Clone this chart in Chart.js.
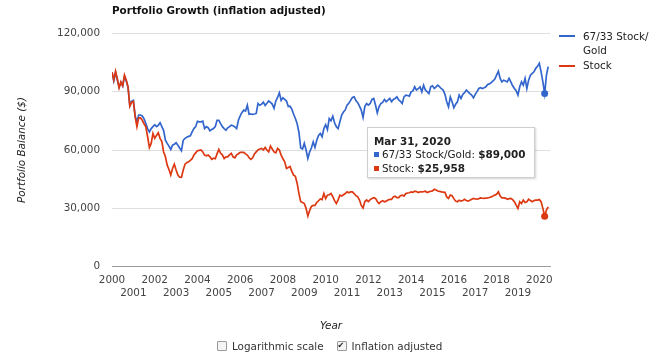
<!DOCTYPE html>
<html>
<head>
<meta charset="utf-8">
<script src="https://cdn.jsdelivr.net/npm/chart.js@4/dist/chart.umd.min.js"></script>
<style>
  html, body { margin: 0; padding: 0; background: #fff; }
  body { font-family: "DejaVu Sans", sans-serif; font-size: 10.4px; color: #222; }
  #wrap { position: relative; width: 660px; height: 360px; overflow: hidden; }
  #c { position: absolute; left: 0; top: 0; }
  .abs { position: absolute; white-space: nowrap; }
  #title { left: 112px; top: 3px; font-weight: bold; line-height: 14px; color: #111; }
  .lg-line { position: absolute; width: 16px; height: 2px; }
  .lg-text { position: absolute; line-height: 13.7px; color: #222; }
  #tip { position: absolute; left: 367px; top: 127px; width: 168px; height: 51px; background: #fff;
         border: 1px solid #cfcfcf; box-shadow: 1px 1px 2px rgba(0,0,0,0.18); box-sizing: border-box; }
  #tip .row { position: absolute; left: 6px; line-height: 14px; white-space: nowrap; color: #222; }
  #tip .sq { display: inline-block; width: 5px; height: 5px; margin-right: 3px; vertical-align: 1px; }
  #checks { left: 217px; top: 339px; line-height: 14px; color: #333; }
  .cb { display: inline-block; width: 8px; height: 8px; border: 1px solid #9a9a9a; border-radius: 1px;
        background: #f4f4f4; vertical-align: -1px; margin-right: 5px; position: relative; }
  .cb.on::after { content: "\2714"; position: absolute; left: 0px; top: -3px; font-size: 8px; color: #222; }
</style>
</head>
<body>
<div id="wrap">
  <canvas id="c" width="660" height="360"></canvas>
  <div id="title" class="abs"></div>
  <div id="legend"></div>
  <div id="tip"></div>
  <div id="checks" class="abs"></div>
</div>
<script>
// ---- data (monthly balances, first point = Dec 31, 1999) ----
const chartTitle = "Portfolio Growth (inflation adjusted)";
const seriesNames = ["67/33 Stock/Gold", "Stock"];
const seriesColors = ["#3366cc", "#dc3912"];
const startYear = 2000;
const xTickYears = [2000, 2001, 2002, 2003, 2004, 2005, 2006, 2007, 2008, 2009, 2010,
                    2011, 2012, 2013, 2014, 2015, 2016, 2017, 2018, 2019, 2020];
const yTicks = [0, 30000, 60000, 90000, 120000];
const tooltipIndex = 243;

const blend = [
  100000, 95500, 99800, 96000, 92300, 94800, 93000, 97800, 95500, 92300,
  83000, 85000, 85500, 77500, 74500, 78000, 78000, 77500, 76000, 73600,
  71000, 69300, 71000, 72000, 73000, 72000, 72700, 74000, 72000, 70000,
  65000, 63400, 62000, 60300, 62500, 63000, 63700, 62500, 61000, 59600,
  65000, 66000, 66500, 67000, 67300, 69300, 71000, 72000, 74800, 74500,
  74500, 74800, 71000, 72000, 71500, 69900, 70500, 71000, 72000, 75300,
  75300, 73600, 72000, 71000, 70200, 71400, 72000, 72800, 72500, 71900,
  71000, 75300, 77500, 79300, 80500, 80000, 83000, 78400, 78500, 78300,
  78500, 78800, 83900, 83000, 83600, 84600, 82900, 84000, 85200, 84500,
  83600, 81400, 85200, 87000, 89400, 85500, 86800, 86000, 85200, 82300,
  82500, 81000, 78400, 76200, 73500, 69000, 61000, 60500, 63400, 60000,
  55700, 59000, 61000, 64200, 61300, 65000, 67500, 68500, 66800, 71000,
  73000, 70500, 76200, 75000, 77400, 74000, 72000, 71000, 74500, 78000,
  79500, 80600, 83000, 84000, 85500, 87000, 87300, 85400, 84300, 82500,
  80500, 76700, 82300, 83900, 83100, 83900, 86000, 86500, 83100, 79100,
  82300, 83900, 84500, 86000, 84800, 85700, 86500, 84800, 86000, 86500,
  87300, 85700, 85000, 83900, 87300, 88200, 88000, 87700, 89900, 90400,
  92500, 90800, 91500, 92500, 89900, 93300, 90800, 90000, 89000, 92500,
  93000, 91600, 92500, 93300, 92500, 91500, 90800, 88600, 84800, 82200,
  87300, 84800, 81700, 83500, 84800, 88200, 86500, 88600, 89500, 90800,
  89900, 89000, 88200, 86800, 88600, 90000, 91600, 92000, 91600, 92000,
  92500, 93700, 94000, 94600, 95500, 96500, 98500, 100500, 96800, 95000,
  95900, 95500, 95000, 96800, 95000, 93000, 91600, 90500, 88200, 92500,
  95000, 93300, 96800, 91600, 95900, 98500, 99400, 100200, 102000, 103000,
  104600, 100200, 95000, 89000, 98500, 102900
];

const stock = [
  100000, 96000, 100500, 96500, 92000, 95000, 93000, 98500, 96000, 92500,
  82500, 84500, 85000, 77000, 72000, 76500, 76500, 75300, 73500, 71900,
  66800, 61300, 63400, 68500, 66000, 67500, 68900, 66000, 64300, 59000,
  56500, 52200, 50000, 47100, 50500, 52700, 49700, 47100, 46000, 45900,
  49700, 52700, 53500, 53900, 54700, 55500, 57400, 58500, 59600, 59800,
  60000, 59000, 57400, 57000, 57400, 56500, 55200, 55800, 55500, 58000,
  60300, 58300, 57500, 55600, 56500, 56500, 57500, 58300, 56500, 56000,
  57500, 58100, 58800, 58800, 58800, 58000, 57400, 56000, 55200, 56000,
  58000, 59000, 60000, 60500, 60800, 60000, 61300, 60000, 59000, 62000,
  60500, 59000, 58500, 60800, 60000, 57400, 55500, 53900, 50500, 51000,
  51500, 49000, 47100, 46500, 42800, 37600, 33400, 33000, 32500, 30000,
  26000, 28900, 31000, 31500, 31500, 33000, 33900, 34800, 34500, 37600,
  35000, 36800, 37000, 37600, 36000, 34000, 32500, 34300, 36800, 36300,
  37000, 37600, 38500, 38000, 38500, 38500, 37600, 36500, 35900, 34300,
  31500, 30200, 33500, 34300, 33500, 34500, 35100, 35500, 35100, 33500,
  32500, 33400, 33900, 33400, 33700, 34300, 34600, 34600, 35900, 36200,
  35500, 35500, 36500, 36800, 36300, 37600, 37900, 38000, 38500, 38200,
  38800, 38600, 38100, 38500, 38500, 38600, 38800, 38100, 38500, 38800,
  39000, 39800, 39400, 38900, 38700, 38500, 38300, 38200, 35900, 35100,
  36800, 36500, 35000, 33700, 33400, 34200, 33700, 34000, 34700, 34000,
  33700, 34200, 34700, 35100, 34800, 34700, 35000, 35400, 35200, 35100,
  35300, 35400, 35600, 35900, 36300, 36800, 37200, 38500, 36300, 35400,
  35400, 35300, 34700, 35000, 35100, 34500, 33400, 31700, 30000, 33400,
  32500, 34200, 33000, 33400, 34700, 34000, 33400, 34000, 34200, 34200,
  34500, 33400, 30000, 25958, 29100, 30800
];

// ---- helpers ----
const FONT = "'DejaVu Sans', sans-serif";
const monthNames = ["Jan","Feb","Mar","Apr","May","Jun","Jul","Aug","Sep","Oct","Nov","Dec"];
function labelFor(k) {
  const m = (k + 11) % 12;
  const y = startYear - 1 + Math.floor((k + 11) / 12);
  const day = new Date(Date.UTC(y, m + 1, 0)).getUTCDate();
  return monthNames[m] + " " + day + ", " + y;
}
const toPts = arr => arr.map((v, k) => ({ x: startYear + k / 12, y: v }));
const money = v => "$" + v.toLocaleString("en-US");

// ---- HTML text parts ----
document.getElementById("title").textContent = chartTitle;

const legend = document.getElementById("legend");
legend.innerHTML =
  '<div class="lg-line" style="left:559px;top:35px;background:' + seriesColors[0] + '"></div>' +
  '<div class="lg-text" style="left:583px;top:30px">67/33 Stock/<br>Gold</div>' +
  '<div class="lg-line" style="left:559px;top:65px;background:' + seriesColors[1] + '"></div>' +
  '<div class="lg-text" style="left:583px;top:59px">' + seriesNames[1] + '</div>';

const tip = document.getElementById("tip");
tip.innerHTML =
  '<div class="row" style="top:6px;font-weight:bold">' + labelFor(tooltipIndex) + '</div>' +
  '<div class="row" style="top:19px"><span class="sq" style="background:' + seriesColors[0] + '"></span>' +
    seriesNames[0] + ': <b>' + money(blend[tooltipIndex]) + '</b></div>' +
  '<div class="row" style="top:33px"><span class="sq" style="background:' + seriesColors[1] + '"></span>' +
    seriesNames[1] + ': <b>' + money(stock[tooltipIndex]) + '</b></div>';

document.getElementById("checks").innerHTML =
  '<span class="cb"></span>Logarithmic scale' +
  '<span style="display:inline-block;width:13px"></span>' +
  '<span class="cb on"></span>Inflation adjusted';

// ---- chart ----
const ptRadius = ctx => (ctx.dataIndex === tooltipIndex ? 3.5 : 0);

new Chart(document.getElementById("c"), {
  type: "line",
  data: {
    datasets: [
      { label: seriesNames[1], data: toPts(stock), borderColor: seriesColors[1], backgroundColor: seriesColors[1],
        borderWidth: 1.7, pointRadius: ptRadius, pointBorderWidth: 0, pointHoverRadius: 0, tension: 0, fill: false },
      { label: seriesNames[0], data: toPts(blend), borderColor: seriesColors[0], backgroundColor: seriesColors[0],
        borderWidth: 1.7, pointRadius: ptRadius, pointBorderWidth: 0, pointHoverRadius: 0, tension: 0, fill: false }
    ]
  },
  options: {
    responsive: false,
    animation: false,
    events: [],
    layout: { padding: { left: 0, right: 110, top: 33.3, bottom: 0 } },
    plugins: { legend: { display: false }, tooltip: { enabled: false }, title: { display: false } },
    scales: {
      x: {
        type: "linear",
        min: 2000,
        max: 2020.5,
        afterFit: s => { s.height = 93.3; },
        afterBuildTicks: s => { s.ticks = xTickYears.map(v => ({ value: v })); },
        grid: { display: false, drawTicks: false },
        border: { display: true, color: "#9a9a9a", width: 1 },
        ticks: {
          autoSkip: false,
          maxRotation: 0,
          minRotation: 0,
          padding: 7,
          color: "#444",
          font: { family: FONT, size: 10.4, lineHeight: 1.27 },
          callback: v => (v % 2 ? ["", String(v)] : String(v))
        },
        title: {
          display: true, text: "Year", color: "#222",
          font: { family: FONT, size: 10.4, style: "italic" },
          padding: { top: 0, bottom: 27 }
        }
      },
      y: {
        min: 0,
        max: 120000,
        afterFit: s => { s.width = 112; },
        afterBuildTicks: s => { s.ticks = yTicks.map(v => ({ value: v })); },
        grid: { color: "#dedede", lineWidth: 1, drawTicks: false },
        border: { display: false },
        ticks: {
          padding: 12,
          color: "#444",
          font: { family: FONT, size: 10.4 },
          callback: v => v.toLocaleString("en-US")
        },
        title: {
          display: true, text: "Portfolio Balance ($)", color: "#222",
          font: { family: FONT, size: 10.4, style: "italic" },
          padding: { top: 16.4, bottom: 0 }
        }
      }
    }
  }
});
</script>
</body>
</html>
